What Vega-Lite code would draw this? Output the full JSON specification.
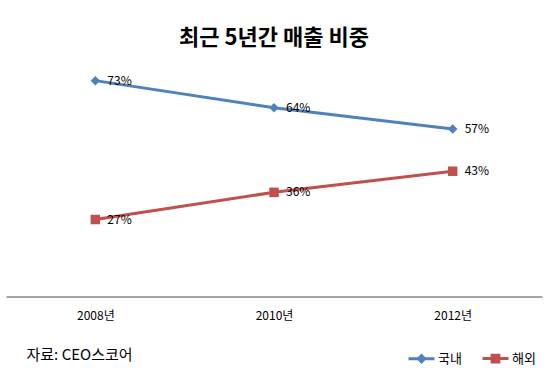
{
  "$schema": "https://vega.github.io/schema/vega-lite/v6.json",
  "autosize": "none",
  "width": 536,
  "height": 237,
  "padding": {"left": 6, "top": 59.5, "right": 9, "bottom": 71.5},
  "background": "white",
  "title": {"text": "최근 5년간 매출 비중", "fontSize": 22, "fontWeight": "bold", "font": "Noto Sans CJK KR", "color": "black", "anchor": "middle", "offset": 10},
  "data": {"values": [
    {"year": "2008년", "series": "국내", "value": 73, "label": "73%"},
    {"year": "2010년", "series": "국내", "value": 64, "label": "64%"},
    {"year": "2012년", "series": "국내", "value": 57, "label": "57%"},
    {"year": "2008년", "series": "해외", "value": 27, "label": "27%"},
    {"year": "2010년", "series": "해외", "value": 36, "label": "36%"},
    {"year": "2012년", "series": "해외", "value": 43, "label": "43%"}
  ]},
  "encoding": {
    "x": {"field": "year", "type": "ordinal", "scale": {"type": "point", "padding": 0.5},
      "axis": {"title": "자료: CEO스코어", "titleAnchor": "start", "titleAlign": "left", "titleX": 20, "titleY": 57.5, "titleBaseline": "middle", "titleFontSize": 15, "titleFontWeight": "normal", "titleFont": "Noto Sans CJK KR", "titleColor": "black",
        "labelAngle": 0, "labelFontSize": 12, "labelColor": "black", "labelFont": "Noto Sans CJK KR", "ticks": false, "tickSize": 0, "labelPadding": 14, "domainColor": "#868686", "domainWidth": 1.5, "grid": false}},
    "y": {"field": "value", "type": "quantitative", "scale": {"domain": [1.5, 80], "zero": false, "nice": false}, "axis": null},
    "color": {"field": "series", "type": "nominal", "scale": {"domain": ["국내", "해외"], "range": ["#4F81BD", "#C0504D"]},
      "legend": {"orient": "none", "legendX": 401, "legendY": 284.5, "direction": "horizontal", "title": null, "symbolSize": 676, "labelFontSize": 13, "labelFont": "Noto Sans CJK KR", "labelColor": "black", "labelOffset": 2, "columnPadding": 14,
        "encode": {"symbols": {"update": {
          "shape": {"signal": "datum.value === '국내' ? 'M-1,0L1,0M-0.24,0L0,-0.24L0.24,0L0,0.24Z' : 'M-1,0L1,0M-0.26,-0.26L0.26,-0.26L0.26,0.26L-0.26,0.26Z'"},
          "fill": {"signal": "datum.value === '국내' ? '#4F81BD' : '#C0504D'"},
          "stroke": {"signal": "datum.value === '국내' ? '#4F81BD' : '#C0504D'"},
          "strokeWidth": {"value": 3},
          "opacity": {"value": 1}
        }}}}}
  },
  "layer": [
    {"mark": {"type": "line", "strokeWidth": 3}},
    {"transform": [{"filter": "datum.series === '국내'"}],
     "mark": {"type": "point", "filled": true, "opacity": 1, "size": 90, "shape": "diamond"}},
    {"transform": [{"filter": "datum.series === '해외'"}],
     "mark": {"type": "point", "filled": true, "opacity": 1, "size": 90, "shape": "square"}},
    {"mark": {"type": "text", "align": "left", "baseline": "middle", "dx": 12, "fontSize": 12, "font": "Noto Sans CJK KR"},
     "encoding": {"text": {"field": "label"}, "color": {"value": "black"}}}
  ],
  "config": {"view": {"stroke": null}}
}
